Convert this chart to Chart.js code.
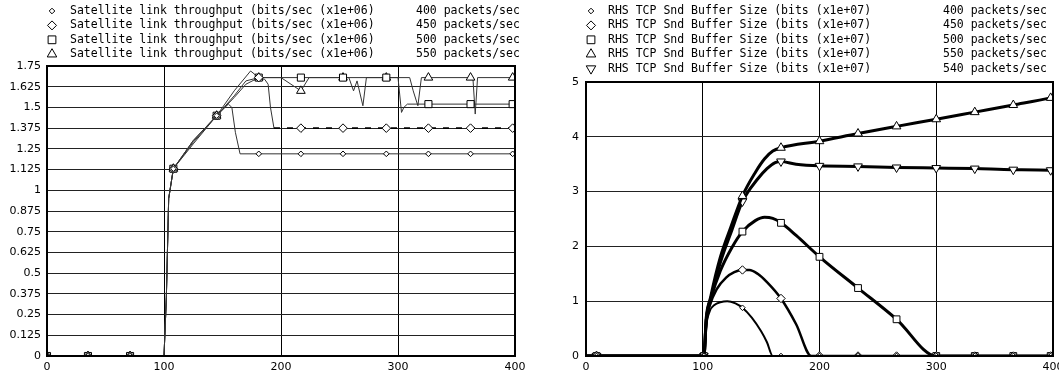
<!DOCTYPE html>
<html>
<head>
<meta charset="utf-8">
<script src="https://cdn.jsdelivr.net/npm/chart.js@4/dist/chart.umd.min.js"></script>
<style>
  html, body { margin: 0; padding: 0; background: #fff; overflow: hidden; }
  .pane { position: absolute; top: 0; height: 376px; }
  #leftPane { left: 0; width: 530px; }
  #rightPane { left: 530px; width: 529px; }
</style>
</head>
<body>
<div class="pane" id="leftPane"><canvas id="tputChart" width="530" height="376"></canvas></div>
<div class="pane" id="rightPane"><canvas id="bufChart" width="529" height="376"></canvas></div>
<script>
// axis ticks
const xTicks = [0, 100, 200, 300, 400];
const tputTicks = [0, 0.125, 0.25, 0.375, 0.5, 0.625, 0.75, 0.875, 1, 1.125, 1.25, 1.375, 1.5, 1.625, 1.75];
const bufTicks = [0, 1, 2, 3, 4, 5];

const tputRates = ['400 packets/sec', '450 packets/sec', '500 packets/sec', '550 packets/sec'];
const bufRates = ['400 packets/sec', '450 packets/sec', '500 packets/sec', '550 packets/sec', '540 packets/sec'];

// Satellite link throughput (x1e6 bits/sec)
const tputMarkX = [0, 35, 71, 108, 145, 181, 217, 253, 290, 326, 362, 398];
const tput400x = [0, 35, 71, 100, 102, 104, 108, 125, 145, 155, 158, 161, 165, 181, 217, 253, 290, 326, 362, 398, 400];
const tput400y = [0, 0, 0, 0, 0.35, 0.95, 1.13, 1.28, 1.45, 1.52, 1.5, 1.35, 1.22, 1.22, 1.22, 1.22, 1.22, 1.22, 1.22, 1.22, 1.22];
const tput450x = [0, 35, 71, 100, 102, 104, 108, 125, 145, 160, 170, 181, 186, 189, 191, 194, 217, 253, 290, 326, 362, 398, 400];
const tput450y = [0, 0, 0, 0, 0.35, 0.95, 1.13, 1.3, 1.45, 1.56, 1.64, 1.68, 1.67, 1.64, 1.5, 1.375, 1.375, 1.375, 1.375, 1.375, 1.375, 1.375, 1.375];
const tput500x = [0, 35, 71, 100, 102, 104, 108, 125, 145, 160, 170, 181, 217, 253, 290, 300, 303, 305, 308, 326, 362, 398, 400];
const tput500y = [0, 0, 0, 0, 0.35, 0.95, 1.13, 1.29, 1.45, 1.57, 1.66, 1.68, 1.68, 1.68, 1.68, 1.68, 1.47, 1.5, 1.52, 1.52, 1.52, 1.52, 1.52];
const tput550x = [0, 35, 71, 100, 102, 104, 108, 125, 145, 160, 174, 181, 200, 217, 224, 253, 258, 262, 265, 270, 273, 290, 310, 313, 317, 320, 326, 362, 364, 366, 368, 398, 400];
const tput550y = [0, 0, 0, 0, 0.35, 0.95, 1.13, 1.3, 1.45, 1.6, 1.72, 1.68, 1.68, 1.6, 1.68, 1.68, 1.68, 1.6, 1.66, 1.51, 1.68, 1.68, 1.68, 1.6, 1.51, 1.68, 1.68, 1.68, 1.68, 1.46, 1.68, 1.68, 1.68];

// RHS TCP Snd Buffer Size (x1e7 bits)
const bufMarkX = [9, 101, 134, 167, 200, 233, 266, 300, 333, 366, 398];
const buf400x = [0, 9, 100, 101, 103, 106, 110, 115, 121, 128, 134, 142, 150, 155, 160, 167, 200, 233, 266, 300, 333, 366, 398, 400];
const buf400y = [0, 0, 0, 0, 0.55, 0.82, 0.93, 0.98, 1.0, 0.96, 0.88, 0.7, 0.45, 0.25, 0, 0, 0, 0, 0, 0, 0, 0, 0, 0];
const buf450x = [0, 9, 100, 101, 103, 106, 112, 120, 127, 134, 140, 147, 155, 167, 180, 193, 200, 233, 266, 300, 333, 366, 398, 400];
const buf450y = [0, 0, 0, 0, 0.6, 0.92, 1.22, 1.43, 1.53, 1.57, 1.57, 1.5, 1.35, 1.05, 0.58, 0, 0, 0, 0, 0, 0, 0, 0, 0];
const buf500x = [0, 9, 100, 101, 103, 107, 115, 125, 134, 145, 153, 160, 167, 180, 200, 233, 266, 300, 333, 366, 398, 400];
const buf500y = [0, 0, 0, 0, 0.7, 1.05, 1.55, 1.98, 2.27, 2.47, 2.53, 2.51, 2.43, 2.2, 1.81, 1.24, 0.67, 0, 0, 0, 0, 0];
const buf550x = [0, 9, 100, 101, 103, 107, 115, 124, 134, 145, 153, 160, 167, 200, 233, 266, 300, 333, 366, 398, 400];
const buf550y = [0, 0, 0, 0, 0.65, 1.1, 1.8, 2.35, 2.92, 3.35, 3.6, 3.74, 3.8, 3.92, 4.06, 4.19, 4.32, 4.45, 4.58, 4.71, 4.72];
const buf540x = [0, 9, 100, 101, 103, 107, 115, 125, 134, 147, 155, 162, 167, 180, 200, 233, 266, 300, 333, 366, 398, 400];
const buf540y = [0, 0, 0, 0, 0.65, 1.05, 1.7, 2.3, 2.82, 3.23, 3.42, 3.53, 3.55, 3.5, 3.47, 3.46, 3.44, 3.43, 3.42, 3.4, 3.39, 3.38];

function pts(xs, ys) {
    return xs.map((x, i) => ({ x: x, y: ys[i] }));
}
function markRadius(marks, r) {
    return ctx => (ctx.raw && marks.includes(ctx.raw.x)) ? r : 0;
}

// legend rows above the plot: marker, label, rate
const rowLegend = {
    id: 'rowLegend',
    afterDraw(chart, args, opts) {
        const ctx = chart.ctx;
        ctx.save();
        ctx.font = '11.5px "DejaVu Sans Mono"';
        ctx.textBaseline = 'middle';
        chart.data.datasets.forEach((ds, i) => {
            const y = opts.top + i * opts.rowH;
            ctx.fillStyle = '#fff';
            ctx.strokeStyle = '#000';
            ctx.lineWidth = 1;
            Chart.helpers.drawPoint(ctx, {
                pointStyle: ds.pointStyle,
                rotation: ds.pointRotation || 0,
                radius: ds.legendRadius,
                borderWidth: 1
            }, opts.markX, y);
            ctx.fillStyle = '#000';
            ctx.fillText(ds.label, opts.textX, y);
            ctx.fillText(opts.rates[i], opts.rateX, y);
        });
        ctx.restore();
    }
};

const frame = {
    id: 'frame',
    afterDatasetsDraw(chart) {
        const { ctx, chartArea: a } = chart;
        ctx.save();
        ctx.strokeStyle = '#000';
        ctx.lineWidth = 2;
        ctx.strokeRect(a.left, a.top, a.right - a.left, a.bottom - a.top);
        ctx.restore();
    }
};

function scalesFor(yTicks, yMax, yWidth, yPad) {
    return {
        x: {
            type: 'linear', min: 0, max: 400,
            afterBuildTicks: s => { s.ticks = xTicks.map(v => ({ value: v })); },
            afterFit: s => { s.height = 20; s.paddingLeft = 0; s.paddingRight = 0; },
            grid: { color: '#000', lineWidth: 1, drawTicks: false },
            border: { display: false },
            ticks: { padding: 5, maxRotation: 0, autoSkip: false, color: '#000', font: { family: 'DejaVu Sans', size: 11 } }
        },
        y: {
            type: 'linear', min: 0, max: yMax,
            afterBuildTicks: s => { s.ticks = yTicks.map(v => ({ value: v })); },
            afterFit: s => { s.width = yWidth; },
            grid: { color: '#222', lineWidth: 1, drawTicks: false },
            border: { display: false },
            ticks: { padding: yPad, autoSkip: false, color: '#000', font: { family: 'DejaVu Sans', size: 11 }, callback: v => String(v) }
        }
    };
}

// Satellite link throughput chart
const tputLabel = 'Satellite link throughput (bits/sec (x1e+06)';
const tputLine = { borderColor: '#333', borderWidth: 1, pointBackgroundColor: '#fff', pointBorderColor: '#000', pointBorderWidth: 1, tension: 0 };
new Chart(document.getElementById('tputChart').getContext('2d'), {
    type: 'line',
    data: {
        datasets: [
            Object.assign({ label: tputLabel, data: pts(tput400x, tput400y), pointStyle: 'rectRot', legendRadius: 2.8, pointRadius: markRadius(tputMarkX, 2.8) }, tputLine),
            Object.assign({ label: tputLabel, data: pts(tput450x, tput450y), pointStyle: 'rectRot', legendRadius: 4.5, pointRadius: markRadius(tputMarkX, 4.3),
                segment: {
                    borderDash: c => c.p0.parsed.x >= 194 ? [6, 7] : undefined,
                    borderColor: c => c.p0.parsed.x >= 194 ? '#000' : undefined,
                    borderWidth: c => c.p0.parsed.x >= 194 ? 1.6 : undefined
                } }, tputLine),
            Object.assign({ label: tputLabel, data: pts(tput500x, tput500y), pointStyle: 'rect', legendRadius: 5.5, pointRadius: markRadius(tputMarkX, 5) }, tputLine),
            Object.assign({ label: tputLabel, data: pts(tput550x, tput550y), pointStyle: 'triangle', legendRadius: 5.5, pointRadius: markRadius(tputMarkX, 5) }, tputLine)
        ]
    },
    options: {
        responsive: false,
        animation: false,
        layout: { padding: { top: 66, right: 15, left: 0, bottom: 0 } },
        scales: scalesFor(tputTicks, 1.75, 47, 6),
        plugins: {
            legend: { display: false },
            tooltip: { enabled: false },
            rowLegend: { top: 11, rowH: 14.4, markX: 52, textX: 70, rateX: 416, rates: tputRates }
        }
    },
    plugins: [rowLegend, frame]
});

// RHS TCP send buffer chart
const bufLabel = 'RHS TCP Snd Buffer Size (bits (x1e+07)';
const bufLine = { borderColor: '#000', pointBackgroundColor: '#fff', pointBorderColor: '#000', pointBorderWidth: 1, cubicInterpolationMode: 'monotone' };
new Chart(document.getElementById('bufChart').getContext('2d'), {
    type: 'line',
    data: {
        datasets: [
            Object.assign({ label: bufLabel, data: pts(buf400x, buf400y), borderWidth: 2, pointStyle: 'rectRot', legendRadius: 2.8, pointRadius: markRadius(bufMarkX, 2.8) }, bufLine),
            Object.assign({ label: bufLabel, data: pts(buf450x, buf450y), borderWidth: 2.5, pointStyle: 'rectRot', legendRadius: 4.5, pointRadius: markRadius(bufMarkX, 4.2) }, bufLine),
            Object.assign({ label: bufLabel, data: pts(buf500x, buf500y), borderWidth: 3, pointStyle: 'rect', legendRadius: 5.5, pointRadius: markRadius(bufMarkX, 4.8) }, bufLine),
            Object.assign({ label: bufLabel, data: pts(buf550x, buf550y), borderWidth: 3, pointStyle: 'triangle', legendRadius: 5.5, pointRadius: markRadius(bufMarkX, 5) }, bufLine),
            Object.assign({ label: bufLabel, data: pts(buf540x, buf540y), borderWidth: 3, pointStyle: 'triangle', pointRotation: 180, legendRadius: 5.5, pointRadius: markRadius(bufMarkX, 5) }, bufLine)
        ]
    },
    options: {
        responsive: false,
        animation: false,
        layout: { padding: { top: 82, right: 6, left: 0, bottom: 0 } },
        scales: scalesFor(bufTicks, 5, 56, 7),
        plugins: {
            legend: { display: false },
            tooltip: { enabled: false },
            rowLegend: { top: 11, rowH: 14.4, markX: 61, textX: 78, rateX: 413, rates: bufRates }
        }
    },
    plugins: [rowLegend, frame]
});
</script>
</body>
</html>
